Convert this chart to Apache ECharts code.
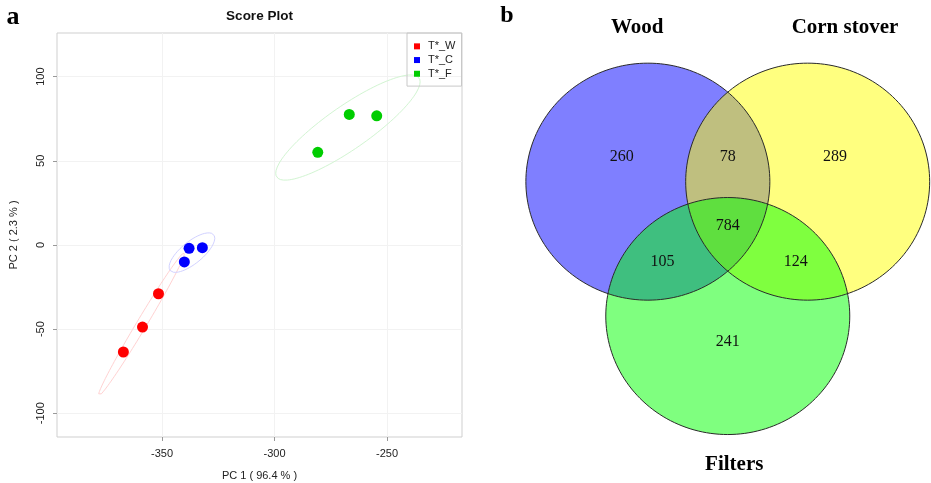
<!DOCTYPE html>
<html>
<head>
<meta charset="utf-8">
<script src="https://cdn.jsdelivr.net/npm/echarts@6/dist/echarts.min.js"></script>
<style>html,body{margin:0;padding:0;background:#fff}#c{width:931px;height:483px}</style>
</head>
<body>
<div id="c"></div>
<script>
// ---------- data: PCA score plot ----------
const groupNames = ['T*_W', 'T*_C', 'T*_F'];
const pc1W = [-367.2, -358.7, -351.6];
const pc2W = [-63.6, -48.8, -29.0];
const pc1C = [-340.1, -338.0, -332.1];
const pc2C = [-10.1, -2.0, -1.6];
const pc1F = [-280.8, -266.8, -254.6];
const pc2F = [55.0, 77.5, 76.7];
const xTicks = [-350, -300, -250];
const yTicks = [-100, -50, 0, 50, 100];

// ---------- data: Venn ----------
const vennSets = ['Wood', 'Corn stover', 'Filters'];
const vennRegions = ['Wood', 'Wood&Corn stover', 'Corn stover', 'Wood&Filters', 'All', 'Corn stover&Filters', 'Filters'];
const vennCounts = [260, 78, 289, 105, 784, 124, 241];

// ---------- styles / layout ----------
const groupColors = ['#FF0000', '#0000FF', '#00CD00'];
const ellipseColors = ['#FFD2D2', '#D2D2FF', '#D2F5D2'];
const vennFill = ['rgba(0,0,255,0.5)', 'rgba(255,255,0,0.5)', 'rgba(0,255,0,0.5)'];
const vennCenters = [[-0.655, 0.378], [0.655, 0.378], [0, -0.756]];
const vennSetLabelPos = [[-0.742, 1.678], [0.961, 1.678], [0.053, -2.013]];
const vennRegionLabelPos = [[-0.870, 0.589], [0, 0.589], [0.879, 0.589], [-0.534, -0.30], [0, 0.004], [0.557, -0.30], [0, -0.972]];

const groupsX = [pc1W, pc1C, pc1F];
const groupsY = [pc2W, pc2C, pc2F];

// 95% confidence ellipse computed from each group's points
function confEllipse(xs, ys, level) {
  const n = xs.length;
  const mx = xs.reduce((a, b) => a + b, 0) / n;
  const my = ys.reduce((a, b) => a + b, 0) / n;
  let sxx = 0, syy = 0, sxy = 0;
  for (let i = 0; i < n; i++) {
    const dx = xs[i] - mx, dy = ys[i] - my;
    sxx += dx * dx; syy += dy * dy; sxy += dx * dy;
  }
  sxx /= (n - 1); syy /= (n - 1); sxy /= (n - 1);
  const t = Math.sqrt(-2 * Math.log(1 - level));
  const l11 = Math.sqrt(sxx), l21 = sxy / l11, l22 = Math.sqrt(Math.max(syy - l21 * l21, 0));
  const pts = [];
  for (let k = 0; k <= 120; k++) {
    const a = 2 * Math.PI * k / 120, c = Math.cos(a), s = Math.sin(a);
    pts.push([mx + t * l11 * c, my + t * (l21 * c + l22 * s)]);
  }
  return pts;
}

const series = [];
groupNames.forEach((g, i) => {
  series.push({
    type: 'line', name: g + ' ellipse', xAxisIndex: 0, yAxisIndex: 0,
    data: confEllipse(groupsX[i], groupsY[i], 0.95),
    showSymbol: false, symbol: 'none', smooth: false, silent: true, z: 1,
    lineStyle: { color: ellipseColors[i], width: 1 }
  });
});
groupNames.forEach((g, i) => {
  series.push({
    type: 'scatter', name: g, xAxisIndex: 0, yAxisIndex: 0,
    data: groupsX[i].map((x, j) => [x, groupsY[i][j]]),
    symbol: 'circle', symbolSize: 11, z: 3,
    itemStyle: { color: groupColors[i], opacity: 1 }
  });
});

function ellipsePoly(api, cx, cy) {
  const pts = [];
  for (let k = 0; k < 180; k++) {
    const a = 2 * Math.PI * k / 180;
    pts.push(api.coord([cx + Math.cos(a), cy + Math.sin(a)]));
  }
  return pts;
}
// Venn fills
series.push({
  type: 'custom', xAxisIndex: 1, yAxisIndex: 1, clip: false, silent: true, z: 2,
  data: vennSets.map((s, i) => [vennCenters[i][0], vennCenters[i][1], i]),
  renderItem: (params, api) => ({
    type: 'polygon',
    shape: { points: ellipsePoly(api, api.value(0), api.value(1)) },
    style: { fill: vennFill[api.value(2)], stroke: null }
  })
});
// Venn outlines
series.push({
  type: 'custom', xAxisIndex: 1, yAxisIndex: 1, clip: false, silent: true, z: 3,
  data: vennSets.map((s, i) => [vennCenters[i][0], vennCenters[i][1], i]),
  renderItem: (params, api) => ({
    type: 'polygon',
    shape: { points: ellipsePoly(api, api.value(0), api.value(1)) },
    style: { fill: null, stroke: '#2a2a2a', lineWidth: 1 }
  })
});
// Venn region counts
series.push({
  type: 'custom', xAxisIndex: 1, yAxisIndex: 1, clip: false, silent: true, z: 4,
  data: vennCounts.map((c, i) => [vennRegionLabelPos[i][0], vennRegionLabelPos[i][1], c]),
  renderItem: (params, api) => {
    const p = api.coord([api.value(0), api.value(1)]);
    return {
      type: 'text', x: p[0], y: p[1],
      style: { text: String(api.value(2)), fontFamily: 'Liberation Serif', fontSize: 16, fill: '#111', align: 'center', verticalAlign: 'middle' }
    };
  }
});
// Venn set names
series.push({
  type: 'custom', xAxisIndex: 1, yAxisIndex: 1, clip: false, silent: true, z: 4,
  data: vennSets.map((s, i) => [vennSetLabelPos[i][0], vennSetLabelPos[i][1], i]),
  renderItem: (params, api) => {
    const p = api.coord([api.value(0), api.value(1)]);
    return {
      type: 'text', x: p[0], y: p[1],
      style: { text: vennSets[api.value(2)], fontFamily: 'Liberation Serif', fontWeight: 'bold', fontSize: 21, fill: '#000', align: 'center', verticalAlign: 'middle' }
    };
  }
});

const axisTxt = { color: '#222', fontSize: 11, fontFamily: 'Liberation Sans' };

const option = {
  animation: false,
  backgroundColor: '#fff',
  graphic: [
    { type: 'text', x: 259.5, y: 16, style: { text: 'Score Plot', fontFamily: 'Liberation Sans', fontWeight: 'bold', fontSize: 13.5, fill: '#111', align: 'center', verticalAlign: 'middle' } },
    { type: 'text', x: 13, y: 17, style: { text: 'a', fontFamily: 'Liberation Serif', fontWeight: 'bold', fontSize: 26, fill: '#000', align: 'center', verticalAlign: 'middle' } },
    { type: 'text', x: 507, y: 16, style: { text: 'b', fontFamily: 'Liberation Serif', fontWeight: 'bold', fontSize: 24, fill: '#000', align: 'center', verticalAlign: 'middle' } }
  ],
  legend: {
    data: groupNames.map(n => ({ name: n, icon: 'rect' })),
    orient: 'vertical', left: 407, top: 33,
    padding: [7, 6, 6, 7], itemWidth: 6, itemHeight: 6, itemGap: 1,
    borderColor: '#c8c8c8', borderWidth: 1, selectedMode: false,
    textStyle: { fontSize: 11, color: '#222', fontFamily: 'Liberation Sans', lineHeight: 12.7, padding: [0, 0, 0, 3] }
  },
  grid: [
    { left: 57, top: 33, width: 405, height: 404, show: true, borderColor: '#cfcfcf', borderWidth: 1, backgroundColor: 'transparent', containLabel: false, outerBoundsMode: 'none' },
    { left: 470, top: 0, width: 461, height: 483, show: false, containLabel: false, outerBoundsMode: 'none' }
  ],
  xAxis: [
    {
      type: 'value', gridIndex: 0, min: -396.7, max: -216.7, position: 'bottom',
      name: 'PC 1 ( 96.4 % )', nameLocation: 'middle', nameGap: 33,
      nameTextStyle: { color: '#222', fontSize: 11, fontFamily: 'Liberation Sans' },
      axisLine: { show: false, onZero: false },
      axisTick: { show: true, length: 4, lineStyle: { color: '#999' }, customValues: xTicks },
      axisLabel: Object.assign({ margin: 11, customValues: xTicks }, axisTxt),
      splitLine: { show: true, lineStyle: { color: '#f2f2f2', width: 1 } }
    },
    { type: 'value', gridIndex: 1, min: -2.113, max: 1.666, show: false }
  ],
  yAxis: [
    {
      type: 'value', gridIndex: 0, min: -114.1, max: 125.9, position: 'left',
      name: 'PC 2 ( 2.3 % )', nameLocation: 'middle', nameGap: 38,
      nameTextStyle: { color: '#222', fontSize: 11, fontFamily: 'Liberation Sans' },
      axisLine: { show: false, onZero: false },
      axisTick: { show: true, length: 4, lineStyle: { color: '#999' }, customValues: yTicks },
      axisLabel: Object.assign({ margin: 11, rotate: 90, customValues: yTicks }, axisTxt),
      splitLine: { show: true, lineStyle: { color: '#f2f2f2', width: 1 } }
    },
    { type: 'value', gridIndex: 1, min: -2.165, max: 1.911, show: false }
  ],
  series: series
};

const chart = echarts.init(document.getElementById('c'));
chart.setOption(option);
</script>
</body>
</html>
